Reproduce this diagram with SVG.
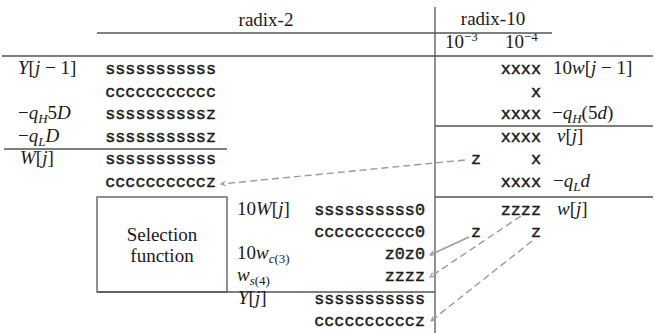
<svg xmlns="http://www.w3.org/2000/svg" width="655" height="333" viewBox="0 0 655 333">
<style>
.rm{font-family:'Liberation Serif','Times New Roman',serif;font-size:19px;fill:#1a1a1a}
.it{font-style:italic}
.sb{font-size:13px}
.tt{font-family:'Liberation Mono','Courier New',monospace;font-size:16.8px;fill:#1a1a1a;stroke:#1a1a1a;stroke-width:0.45}
.rule{stroke:#555;stroke-width:1.3;fill:none}
.dash{stroke:#9a9a9a;stroke-width:1.4;stroke-dasharray:7,4;fill:none}
.solid{stroke:#9a9a9a;stroke-width:1.4;fill:none}
</style>
<defs>
<marker id="ah" viewBox="0 0 8 8" refX="7" refY="4" markerWidth="6" markerHeight="6" orient="auto" markerUnits="userSpaceOnUse">
<path d="M1,1 L7,4 L1,7" fill="none" stroke="#9a9a9a" stroke-width="1.4"/>
</marker>
</defs>

<g id="header">
<text class="rm" x="266" y="26" text-anchor="middle">radix-2</text>
<text class="rm" x="493" y="25" text-anchor="middle">radix-10</text>
<text class="rm" x="445" y="48">10<tspan class="sb" dy="-7">−3</tspan></text>
<text class="rm" x="505" y="48">10<tspan class="sb" dy="-7">−4</tspan></text>
</g>

<g id="rules">
<line class="rule" x1="97" y1="33" x2="435" y2="33"/>
<line class="rule" x1="435" y1="33" x2="552" y2="33"/>
<line class="rule" x1="435" y1="7" x2="435" y2="333"/>
<line class="rule" x1="2" y1="56" x2="653" y2="56"/>
<line class="rule" x1="435" y1="126" x2="653" y2="126"/>
<line class="rule" x1="4" y1="149" x2="227" y2="149"/>
<line class="rule" x1="435" y1="197" x2="653" y2="197"/>
<line class="rule" x1="97" y1="292" x2="435" y2="292"/>
</g>

<g id="left-labels">
<text class="rm" x="18" y="74"><tspan class="it">Y</tspan>[<tspan class="it">j</tspan> − 1]</text>
<text class="rm" x="18" y="119">−<tspan class="it">q</tspan><tspan class="sb it" dy="4">H</tspan><tspan dy="-4">5</tspan><tspan class="it">D</tspan></text>
<text class="rm" x="18" y="141.5">−<tspan class="it">q</tspan><tspan class="sb it" dy="4">L</tspan><tspan class="it" dy="-4">D</tspan></text>
<text class="rm" x="20" y="164"><tspan class="it">W</tspan>[<tspan class="it">j</tspan>]</text>
</g>

<g id="radix2-bits">
<text class="tt" x="216" y="74" text-anchor="end">sssssssssss</text>
<text class="tt" x="216" y="96.5" text-anchor="end">ccccccccccc</text>
<text class="tt" x="216" y="119" text-anchor="end">ssssssssssz</text>
<text class="tt" x="216" y="141.5" text-anchor="end">ssssssssssz</text>
<text class="tt" x="216" y="164" text-anchor="end">sssssssssss</text>
<text class="tt" x="216" y="187" text-anchor="end">ccccccccccz</text>
</g>

<g id="selection-function">
<rect class="rule" x="97" y="197" width="130" height="95"/>
<text class="rm" x="162" y="241" text-anchor="middle">Selection</text>
<text class="rm" x="162" y="262" text-anchor="middle">function</text>
</g>

<g id="middle-labels">
<text class="rm" x="237" y="215">10<tspan class="it">W</tspan>[<tspan class="it">j</tspan>]</text>
<text class="rm" x="237" y="259">10<tspan class="it">w</tspan><tspan class="sb" dy="4"><tspan class="it">c</tspan>(3)</tspan></text>
<text class="rm" x="237" y="281"><tspan class="it">w</tspan><tspan class="sb" dy="4"><tspan class="it">s</tspan>(4)</tspan></text>
<text class="rm" x="238" y="304"><tspan class="it">Y</tspan>[<tspan class="it">j</tspan>]</text>
</g>

<g id="middle-bits">
<text class="tt" x="425" y="215" text-anchor="end">ssssssssss0</text>
<text class="tt" x="425" y="237" text-anchor="end">cccccccccc0</text>
<text class="tt" x="425" y="259" text-anchor="end">z0z0</text>
<text class="tt" x="425" y="281" text-anchor="end">zzzz</text>
<text class="tt" x="425" y="304" text-anchor="end">sssssssssss</text>
<text class="tt" x="425" y="326" text-anchor="end">ccccccccccz</text>
</g>

<g id="radix10-bits">
<text class="tt" x="541" y="74" text-anchor="end">xxxx</text>
<text class="tt" x="541" y="96.5" text-anchor="end">x</text>
<text class="tt" x="541" y="119" text-anchor="end">xxxx</text>
<text class="tt" x="541" y="141.5" text-anchor="end">xxxx</text>
<text class="tt" x="481" y="164" text-anchor="end">z</text>
<text class="tt" x="541" y="164" text-anchor="end">x</text>
<text class="tt" x="541" y="187" text-anchor="end">xxxx</text>
<text class="tt" x="541" y="215" text-anchor="end">zzzz</text>
<text class="tt" x="481" y="237" text-anchor="end">z</text>
<text class="tt" x="541" y="237" text-anchor="end">z</text>
</g>

<g id="right-labels">
<text class="rm" x="553" y="74">10<tspan class="it">w</tspan>[<tspan class="it">j</tspan> − 1]</text>
<text class="rm" x="552" y="119">−<tspan class="it">q</tspan><tspan class="sb it" dy="4">H</tspan><tspan dy="-4">(5</tspan><tspan class="it">d</tspan>)</text>
<text class="rm" x="557" y="141.5"><tspan class="it">v</tspan>[<tspan class="it">j</tspan>]</text>
<text class="rm" x="553" y="187">−<tspan class="it">q</tspan><tspan class="sb it" dy="4">L</tspan><tspan class="it" dy="-4">d</tspan></text>
<text class="rm" x="557" y="215"><tspan class="it">w</tspan>[<tspan class="it">j</tspan>]</text>
</g>

<g id="connectors">
<line class="dash" x1="465" y1="160" x2="221" y2="184" marker-end="url(#ah)"/>
<line class="solid" x1="469" y1="237" x2="430" y2="255" marker-end="url(#ah)"/>
<line class="dash" x1="521" y1="216" x2="430" y2="277" marker-end="url(#ah)"/>
<line class="dash" x1="532" y1="241" x2="431" y2="321" marker-end="url(#ah)"/>
</g>
</svg>
